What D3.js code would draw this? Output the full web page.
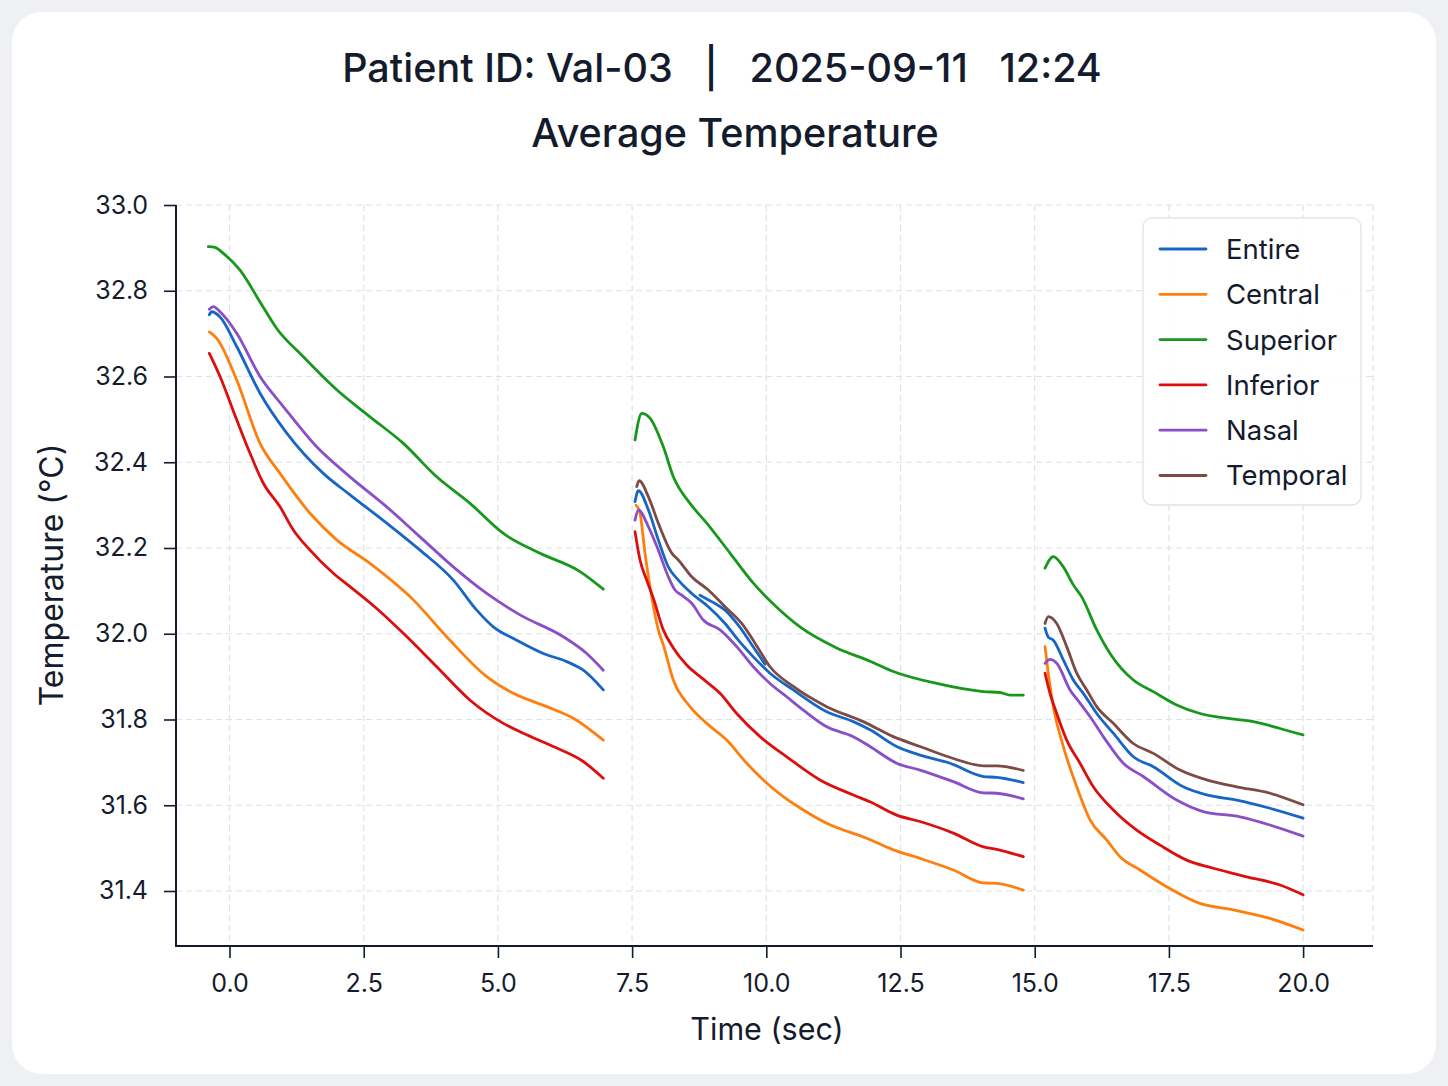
<!DOCTYPE html>
<html><head><meta charset="utf-8">
<script src="https://cdn.jsdelivr.net/npm/d3@7"></script>
<style>
html,body{margin:0;padding:0;background:#eef0f3;}
svg{display:block;font-family:Inter,"Noto Sans",sans-serif;}
</style></head>
<body>
<script>
// ---------- DATA ----------
const titleLine1 = "Patient ID: Val-03   |   2025-09-11   12:24";
const titleLine2 = "Average Temperature";
const xLabel = "Time (sec)";
const yLabel = "Temperature (°C)";
const xTicks = [0, 2.5, 5, 7.5, 10, 12.5, 15, 17.5, 20];
const yTicks = [31.4, 31.6, 31.8, 32.0, 32.2, 32.4, 32.6, 32.8, 33.0];
const seriesNames = ["Entire", "Central", "Superior", "Inferior", "Nasal", "Temporal"];

// each series: list of recording segments, each [time, temperature]
const entire = [
  [[-0.376,32.744],[-0.332,32.751],[-0.177,32.739],[0.134,32.670],[0.568,32.561],[1.066,32.468],[1.747,32.374],[2.245,32.324],[2.928,32.258],[3.549,32.195],[4.169,32.125],[4.605,32.055],[4.914,32.016],[5.350,31.985],[5.846,31.954],[6.282,31.935],[6.591,31.915],[6.963,31.869]],
  [[7.554,32.308],[7.616,32.334],[7.802,32.289],[7.988,32.219],[8.174,32.156],[8.361,32.125],[8.610,32.094],[8.920,32.063],[9.231,32.024],[9.478,31.985],[9.758,31.946],[10.069,31.908],[10.503,31.869],[11.125,31.818],[11.621,31.795],[11.932,31.776],[12.429,31.737],[12.863,31.717],[13.422,31.698],[14.043,31.667],[14.292,31.665],[14.788,31.653]],
  [[8.765,32.090],[8.983,32.075],[9.231,32.055],[9.478,32.020],[9.758,31.969],[9.976,31.929]],
  [[15.192,32.013],[15.253,31.992],[15.347,31.985],[15.533,31.939],[15.719,31.892],[15.905,31.861],[16.155,31.814],[16.464,31.768],[16.837,31.713],[17.209,31.690],[17.768,31.643],[18.204,31.624],[18.763,31.612],[19.383,31.593],[20.0,31.570]]
];
const central = [
  [[-0.376,32.704],[-0.238,32.689],[0.134,32.592],[0.568,32.444],[0.941,32.374],[1.500,32.281],[1.997,32.219],[2.617,32.164],[3.424,32.079],[4.046,31.993],[4.791,31.900],[5.287,31.861],[5.909,31.830],[6.405,31.803],[6.963,31.752]],
  [[7.573,32.300],[7.647,32.281],[7.740,32.188],[7.865,32.086],[7.988,32.009],[8.081,31.974],[8.268,31.892],[8.579,31.830],[8.890,31.791],[9.262,31.752],[9.635,31.698],[9.944,31.659],[10.317,31.620],[10.689,31.589],[11.125,31.558],[11.870,31.523],[12.366,31.496],[12.863,31.476],[13.484,31.449],[14.043,31.419],[14.292,31.418],[14.788,31.402]],
  [[15.192,31.970],[15.253,31.908],[15.347,31.830],[15.533,31.737],[15.783,31.643],[16.030,31.566],[16.341,31.519],[16.589,31.480],[16.962,31.449],[17.459,31.410],[18.079,31.371],[18.700,31.356],[19.383,31.336],[20.0,31.309]]
];
const superior = [
  [[-0.395,32.903],[-0.270,32.901],[-0.115,32.887],[0.196,32.848],[0.568,32.774],[0.879,32.712],[1.375,32.646],[1.997,32.569],[2.617,32.506],[3.238,32.444],[3.860,32.366],[4.481,32.304],[5.101,32.234],[5.723,32.191],[6.530,32.145],[6.963,32.104]],
  [[7.554,32.452],[7.679,32.514],[7.833,32.503],[8.081,32.436],[8.268,32.366],[8.579,32.304],[8.890,32.258],[9.324,32.188],[9.758,32.118],[10.255,32.055],[10.628,32.016],[11.311,31.967],[11.932,31.936],[12.366,31.912],[13.174,31.884],[14.043,31.865],[14.354,31.863],[14.540,31.857],[14.788,31.857]],
  [[15.192,32.153],[15.347,32.180],[15.533,32.156],[15.719,32.114],[15.876,32.086],[16.155,32.009],[16.403,31.954],[16.837,31.892],[17.209,31.865],[17.645,31.834],[18.079,31.814],[18.577,31.803],[19.072,31.795],[19.570,31.779],[20.0,31.764]]
];
const inferior = [
  [[-0.376,32.654],[-0.177,32.600],[0.134,32.499],[0.382,32.421],[0.630,32.351],[0.941,32.296],[1.189,32.242],[1.500,32.195],[1.934,32.141],[2.245,32.110],[2.742,32.059],[3.238,32.001],[3.860,31.923],[4.481,31.845],[5.101,31.791],[5.473,31.768],[6.032,31.737],[6.591,31.702],[6.963,31.663]],
  [[7.554,32.238],[7.647,32.172],[7.772,32.125],[7.895,32.083],[8.081,32.009],[8.268,31.967],[8.517,31.927],[8.826,31.894],[9.138,31.861],[9.448,31.814],[9.883,31.760],[10.380,31.713],[11.000,31.659],[11.621,31.624],[11.932,31.608],[12.429,31.577],[12.863,31.562],[13.484,31.535],[14.043,31.503],[14.292,31.497],[14.788,31.480]],
  [[15.192,31.908],[15.285,31.861],[15.410,31.814],[15.596,31.752],[15.844,31.698],[16.092,31.643],[16.464,31.589],[16.900,31.542],[17.334,31.507],[17.831,31.472],[18.327,31.453],[18.949,31.433],[19.570,31.414],[20.0,31.391]]
];
const nasal = [
  [[-0.376,32.757],[-0.302,32.763],[-0.177,32.751],[0.134,32.701],[0.568,32.600],[1.002,32.530],[1.624,32.436],[2.245,32.366],[2.928,32.296],[3.549,32.226],[4.169,32.156],[4.791,32.094],[5.412,32.044],[6.218,31.993],[6.654,31.954],[6.963,31.915]],
  [[7.554,32.265],[7.616,32.289],[7.802,32.250],[7.988,32.195],[8.174,32.133],[8.299,32.102],[8.424,32.090],[8.610,32.071],[8.826,32.032],[9.138,32.009],[9.448,31.970],[9.758,31.923],[10.069,31.884],[10.380,31.853],[10.689,31.822],[11.125,31.783],[11.621,31.760],[11.932,31.737],[12.429,31.698],[12.863,31.682],[13.484,31.655],[14.043,31.629],[14.292,31.628],[14.788,31.615]],
  [[15.192,31.931],[15.285,31.940],[15.410,31.931],[15.658,31.869],[15.844,31.838],[16.030,31.807],[16.278,31.760],[16.651,31.698],[17.023,31.667],[17.645,31.612],[18.141,31.585],[18.824,31.573],[19.383,31.554],[20.0,31.528]]
];
const temporal = [
  [[7.586,32.343],[7.629,32.357],[7.802,32.320],[7.988,32.258],[8.238,32.188],[8.361,32.172],[8.610,32.133],[8.920,32.102],[9.231,32.063],[9.542,32.024],[9.790,31.978],[10.069,31.923],[10.503,31.877],[11.125,31.830],[11.807,31.795],[12.366,31.760],[12.863,31.737],[13.484,31.709],[14.043,31.692],[14.292,31.692],[14.788,31.681]],
  [[15.192,32.024],[15.253,32.040],[15.410,32.024],[15.596,31.970],[15.783,31.908],[15.969,31.869],[16.155,31.830],[16.464,31.791],[16.837,31.744],[17.209,31.721],[17.707,31.682],[18.204,31.659],[18.763,31.643],[19.383,31.628],[20.0,31.601]]
];
const seriesData = [entire, central, superior, inferior, nasal, temporal];
const seriesColors = ["#1766c6", "#ff7f0e", "#17981c", "#dc0f0f", "#8a4fc6", "#7d4b45"];

// ---------- LAYOUT ----------
const W = 1448, H = 1086;
const plot = {left: 176, right: 1373, top: 205, bottom: 946};
const ink = "#141b2d";

const svg = d3.select("body").append("svg").attr("width", W).attr("height", H);
svg.append("rect").attr("width", W).attr("height", H).attr("fill", "#eef0f3");
svg.append("rect").attr("x", 12).attr("y", 12).attr("width", 1424).attr("height", 1062)
  .attr("rx", 30).attr("fill", "#ffffff");

const x = d3.scaleLinear().domain([-0.997, 21.302]).range([plot.left, plot.right]);
const y = d3.scaleLinear().domain([31.2717, 33.0]).range([plot.bottom, plot.top]);

// grid
const grid = svg.append("g").attr("stroke", "#dde1e9").attr("stroke-width", 1.2).attr("stroke-dasharray", "6,4");
grid.selectAll("line.v").data(xTicks).join("line")
  .attr("x1", d => x(d)).attr("x2", d => x(d)).attr("y1", plot.top).attr("y2", plot.bottom);
grid.selectAll("line.h").data(yTicks).join("line")
  .attr("y1", d => y(d)).attr("y2", d => y(d)).attr("x1", plot.left).attr("x2", plot.right);
grid.append("line").attr("x1", plot.right).attr("x2", plot.right).attr("y1", plot.top).attr("y2", plot.bottom);

// axes
const xAxis = svg.append("g").attr("transform", `translate(0,${plot.bottom})`)
  .call(d3.axisBottom(x).tickValues(xTicks).tickFormat(d3.format(".1f")).tickSize(12).tickPadding(11));
const yAxis = svg.append("g").attr("transform", `translate(${plot.left},0)`)
  .call(d3.axisLeft(y).tickValues(yTicks).tickFormat(d3.format(".1f")).tickSize(12).tickPadding(16));
[xAxis, yAxis].forEach(a => {
  a.select(".domain").remove();
  a.selectAll(".tick line").attr("stroke", ink).attr("stroke-width", 1.6);
  a.selectAll(".tick text").attr("fill", ink).style("font-size", "25px").style("font-family", "Inter, sans-serif");
});
xAxis.selectAll(".tick text").attr("dy", "0.9em");
// spines
svg.append("line").attr("x1", plot.left).attr("x2", plot.left).attr("y1", plot.top).attr("y2", plot.bottom + 1)
  .attr("stroke", ink).attr("stroke-width", 2);
svg.append("line").attr("x1", plot.left - 1).attr("x2", plot.right).attr("y1", plot.bottom).attr("y2", plot.bottom)
  .attr("stroke", ink).attr("stroke-width", 2);

// lines
const line = d3.line().x(d => x(d[0])).y(d => y(d[1])).curve(d3.curveMonotoneX);
const linesG = svg.append("g").attr("fill", "none").attr("stroke-width", 2.8)
  .attr("stroke-linejoin", "round").attr("stroke-linecap", "round");
seriesData.forEach((segs, i) => {
  linesG.selectAll(null).data(segs).join("path")
    .attr("d", line).attr("stroke", seriesColors[i]);
});

// titles
svg.append("text").attr("x", 722).attr("y", 82).attr("text-anchor", "middle")
  .style("white-space", "pre").attr("fill", ink).style("font-size", "39.5px").style("font-weight", 500)
  .text(titleLine1);
svg.append("text").attr("x", 735).attr("y", 147).attr("text-anchor", "middle")
  .attr("fill", ink).style("font-size", "39.5px").style("font-weight", 500)
  .text(titleLine2);
svg.append("text").attr("x", 767).attr("y", 1040).attr("text-anchor", "middle")
  .attr("fill", ink).style("font-size", "30.5px").text(xLabel);
svg.append("text").attr("transform", "translate(63,575) rotate(-90)").attr("text-anchor", "middle")
  .attr("fill", ink).style("font-size", "32px").text(yLabel);

// legend
const lg = svg.append("g").attr("transform", "translate(1143,218)");
lg.append("rect").attr("width", 218).attr("height", 287).attr("rx", 9)
  .attr("fill", "#ffffff").attr("fill-opacity", 0.9).attr("stroke", "#dfe3ea").attr("stroke-width", 1.3);
const items = lg.selectAll("g.item").data(seriesNames).join("g")
  .attr("transform", (d, i) => `translate(0,${31 + i * 45.3})`);
items.append("line").attr("x1", 17).attr("x2", 63).attr("y1", 0).attr("y2", 0)
  .attr("stroke", (d, i) => seriesColors[i]).attr("stroke-width", 2.8).attr("stroke-linecap", "round");
items.append("text").attr("x", 83).attr("y", 0).attr("dy", "0.36em")
  .attr("fill", ink).style("font-size", "27.5px").text(d => d);
</script>
</body></html>
